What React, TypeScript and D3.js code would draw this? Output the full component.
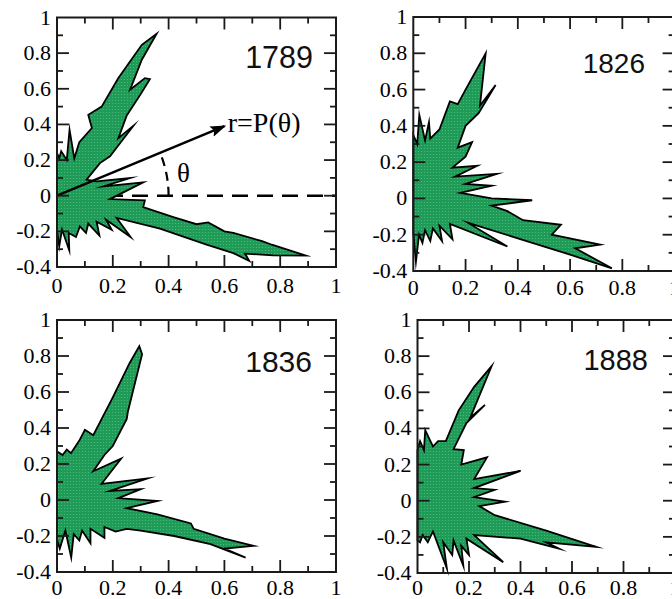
import React from 'react';
import * as d3 from 'd3';

// ---------- data ----------
const years = ['1789', '1826', '1836', '1888'];
const xMajorTicks = [0, 0.2, 0.4, 0.6, 0.8, 1];
const xTickLabels = ['0', '0.2', '0.4', '0.6', '0.8', '1'];
const xMinorTicks = [0.1, 0.3, 0.5, 0.7, 0.9];
const yMajorTicks = [-0.4, -0.2, 0, 0.2, 0.4, 0.6, 0.8, 1];
const yTickLabels = ['-0.4', '-0.2', '0', '0.2', '0.4', '0.6', '0.8', '1'];
const yMinorTicks = [-0.3, -0.1, 0.1, 0.3, 0.5, 0.7, 0.9];

// polygon vertices (x = P cos θ, y = P sin θ), ordered by θ from -90° to 90°
const shape1789: [number, number][] = [
  [0, -0.19], [0.008, -0.284], [0.018, -0.19], [0.044, -0.307], [0.042, -0.209],
  [0.068, -0.232], [0.082, -0.172], [0.104, -0.209], [0.112, -0.157], [0.152, -0.224],
  [0.142, -0.146], [0.196, -0.191], [0.176, -0.135], [0.264, -0.232], [0.214, -0.125],
  [0.369, -0.185], [0.536, -0.275], [0.632, -0.322], [0.689, -0.366], [0.674, -0.325],
  [0.775, -0.335], [0.892, -0.336], [0.77, -0.275], [0.735, -0.255], [0.632, -0.209],
  [0.60, -0.20], [0.542, -0.15], [0.50, -0.16], [0.417, -0.12], [0.309, -0.064],
  [0.315, -0.026], [0.19, -0.019], [0.309, 0.075], [0.166, 0.052], [0.262, 0.099],
  [0.142, 0.08], [0.106, 0.09], [0.154, 0.183], [0.19, 0.221], [0.208, 0.258],
  [0.274, 0.393], [0.22, 0.323], [0.25, 0.45], [0.30, 0.57], [0.333, 0.654],
  [0.315, 0.66], [0.262, 0.595], [0.304, 0.763], [0.357, 0.909], [0.304, 0.847],
  [0.22, 0.66], [0.16, 0.50], [0.112, 0.454], [0.125, 0.38], [0.08, 0.30],
  [0.062, 0.21], [0.045, 0.37], [0.035, 0.2], [0.015, 0.25], [0.008, 0.21], [0, 0.24],
];

const shape1826: [number, number][] = [
  [0, -0.19], [0.01, -0.35], [0.022, -0.2], [0.035, -0.245], [0.045, -0.175],
  [0.065, -0.235], [0.075, -0.165], [0.11, -0.235], [0.10, -0.15], [0.15, -0.225],
  [0.14, -0.14], [0.36, -0.265], [0.21, -0.135], [0.40, -0.22], [0.60, -0.31],
  [0.76, -0.385], [0.62, -0.275], [0.715, -0.255], [0.53, -0.2], [0.565, -0.145],
  [0.42, -0.12], [0.36, -0.07], [0.30, -0.04], [0.455, -0.01], [0.30, 0.0],
  [0.18, 0.03], [0.30, 0.07], [0.20, 0.08], [0.32, 0.135], [0.16, 0.12],
  [0.245, 0.18], [0.15, 0.17], [0.20, 0.23], [0.225, 0.31], [0.17, 0.28],
  [0.20, 0.40], [0.25, 0.47], [0.315, 0.625], [0.255, 0.51], [0.277, 0.80],
  [0.20, 0.60], [0.17, 0.52], [0.14, 0.535], [0.10, 0.38], [0.065, 0.33],
  [0.06, 0.42], [0.045, 0.32], [0.023, 0.46], [0.015, 0.3], [0, 0.35],
];

const shape1836: [number, number][] = [
  [0, -0.22], [0.01, -0.27], [0.03, -0.17], [0.051, -0.32], [0.06, -0.19],
  [0.08, -0.225], [0.09, -0.17], [0.12, -0.24], [0.12, -0.16], [0.17, -0.21],
  [0.17, -0.15], [0.21, -0.175], [0.25, -0.16], [0.30, -0.17], [0.42, -0.2],
  [0.55, -0.245], [0.676, -0.32], [0.60, -0.27], [0.706, -0.255], [0.60, -0.215],
  [0.49, -0.16], [0.48, -0.13], [0.36, -0.08], [0.25, -0.045], [0.36, -0.005],
  [0.22, 0.01], [0.30, 0.06], [0.19, 0.05], [0.325, 0.12], [0.16, 0.09],
  [0.23, 0.23], [0.13, 0.16], [0.17, 0.25], [0.20, 0.30], [0.21, 0.33],
  [0.25, 0.45], [0.254, 0.49], [0.305, 0.81], [0.295, 0.855], [0.26, 0.76],
  [0.20, 0.57], [0.13, 0.36], [0.10, 0.39], [0.08, 0.33], [0.05, 0.26],
  [0.035, 0.28], [0.02, 0.25], [0, 0.27],
];

const shape1888: [number, number][] = [
  [0, -0.22], [0.01, -0.23], [0.02, -0.19], [0.04, -0.23], [0.06, -0.17],
  [0.114, -0.375], [0.10, -0.23], [0.135, -0.30], [0.14, -0.22], [0.178, -0.36],
  [0.17, -0.25], [0.20, -0.30], [0.19, -0.21], [0.333, -0.34], [0.22, -0.19],
  [0.40, -0.21], [0.55, -0.265], [0.50, -0.23], [0.694, -0.256], [0.50, -0.165],
  [0.30, -0.08], [0.24, -0.03], [0.34, -0.005], [0.22, 0.02], [0.30, 0.06],
  [0.22, 0.07], [0.40, 0.165], [0.22, 0.12], [0.27, 0.24], [0.17, 0.20],
  [0.18, 0.28], [0.14, 0.285], [0.19, 0.43], [0.262, 0.53], [0.205, 0.46],
  [0.288, 0.745], [0.22, 0.63], [0.16, 0.50], [0.11, 0.33], [0.08, 0.33],
  [0.06, 0.30], [0.03, 0.39], [0.025, 0.28], [0.01, 0.33], [0, 0.28],
];

const shapes = [shape1789, shape1826, shape1836, shape1888];

// annotation (panel 1): arrow end point and labels
const arrowTip: [number, number] = [0.6, 0.39];
const arcRadiusX = 0.4;

// ---------- layout ----------
const panelBoxes = [
  { left: 57, right: 336, top: 17.5, bottom: 267, labelDy: 26, yearX: 313, yearY: 68, yearSize: 30.5 },
  { left: 413.3, right: 674.6, top: 17, bottom: 271, labelDy: 24, yearX: 645, yearY: 72.5, yearSize: 28 },
  { left: 57, right: 336, top: 320, bottom: 572, labelDy: 23, yearX: 312, yearY: 371.5, yearSize: 30 },
  { left: 417.5, right: 675, top: 320, bottom: 573, labelDy: 22, yearX: 648, yearY: 370, yearSize: 29 },
];

const MAJOR = 12;
const MINOR = 6;
const serif = '"Liberation Serif", "Times New Roman", serif';
const sans = '"Liberation Sans", Arial, sans-serif';

function Panel({ idx }: { idx: number }) {
  const b = panelBoxes[idx];
  const x = d3.scaleLinear().domain([0, 1]).range([b.left, b.right]);
  const y = d3.scaleLinear().domain([-0.4, 1]).range([b.bottom, b.top]);
  const line = d3
    .line<[number, number]>()
    .x((d) => x(d[0]))
    .y((d) => y(d[1]));
  const path = line(shapes[idx]) + 'Z';

  const ticks: JSX.Element[] = [];
  xMajorTicks.forEach((v, i) => {
    if (v > 0 && v < 1) {
      ticks.push(<line key={'xb' + i} x1={x(v)} x2={x(v)} y1={b.bottom} y2={b.bottom - MAJOR} />);
      ticks.push(<line key={'xt' + i} x1={x(v)} x2={x(v)} y1={b.top} y2={b.top + MAJOR} />);
    }
  });
  xMinorTicks.forEach((v, i) => {
    ticks.push(<line key={'xbm' + i} x1={x(v)} x2={x(v)} y1={b.bottom} y2={b.bottom - MINOR} />);
    ticks.push(<line key={'xtm' + i} x1={x(v)} x2={x(v)} y1={b.top} y2={b.top + MINOR} />);
  });
  yMajorTicks.forEach((v, i) => {
    if (v > -0.4 && v < 1) {
      ticks.push(<line key={'yl' + i} x1={b.left} x2={b.left + MAJOR} y1={y(v)} y2={y(v)} />);
      ticks.push(<line key={'yr' + i} x1={b.right} x2={b.right - MAJOR} y1={y(v)} y2={y(v)} />);
    }
  });
  yMinorTicks.forEach((v, i) => {
    ticks.push(<line key={'ylm' + i} x1={b.left} x2={b.left + MINOR} y1={y(v)} y2={y(v)} />);
    ticks.push(<line key={'yrm' + i} x1={b.right} x2={b.right - MINOR} y1={y(v)} y2={y(v)} />);
  });

  let annotation: JSX.Element | null = null;
  if (idx === 0) {
    const ox = x(0), oy = y(0);
    const tx = x(arrowTip[0]), ty = y(arrowTip[1]);
    const ang = Math.atan2(oy - ty, tx - ox);
    const R = x(arcRadiusX) - ox;
    const arcPath = `M${ox + R},${oy} A${R},${R} 0 0 0 ${ox + R * Math.cos(ang)},${oy - R * Math.sin(ang)}`;
    annotation = (
      <g>
        <line x1={ox} y1={oy} x2={tx} y2={ty} stroke="#000" strokeWidth={2.4} markerEnd="url(#arrowhead)" />
        <path d={arcPath} fill="none" stroke="#000" strokeWidth={2.2} strokeDasharray="9 6" />
        <text x={x(0.612)} y={y(0.36)} fontFamily={serif} fontSize={28} fill="#000">r=P(θ)</text>
        <text x={x(0.43)} y={y(0.079)} fontFamily={serif} fontSize={27} fill="#000">θ</text>
      </g>
    );
  }

  return (
    <g>
      {idx === 0 && (
        <line x1={x(0)} x2={x(1)} y1={y(0)} y2={y(0)} stroke="#000" strokeWidth={2.4} strokeDasharray="16 9" />
      )}
      <path d={path} fill="url(#dots)" stroke="#000" strokeWidth={1.8} strokeLinejoin="miter" strokeMiterlimit={10} />
      {annotation}
      <g stroke="#1a1a1a" strokeWidth={1.8}>{ticks}</g>
      <rect x={b.left} y={b.top} width={b.right - b.left} height={b.bottom - b.top} fill="none" stroke="#1a1a1a" strokeWidth={2} />
      {xMajorTicks.map((v, i) => (
        <text key={'xl' + i} x={x(v)} y={b.bottom + b.labelDy} textAnchor="middle" fontFamily={serif} fontSize={22} fill="#000">
          {xTickLabels[i]}
        </text>
      ))}
      {yMajorTicks.map((v, i) => (
        <text key={'yl' + i} x={b.left - 6} y={y(v) + 7} textAnchor="end" fontFamily={serif} fontSize={22} fill="#000">
          {yTickLabels[i]}
        </text>
      ))}
      <text x={b.yearX} y={b.yearY} textAnchor="end" fontFamily={sans} fontSize={b.yearSize} fill="#111">
        {years[idx]}
      </text>
    </g>
  );
}

export default function App() {
  return (
    <svg width={672} height={599} style={{ position: 'absolute', left: 0, top: 0, background: '#fff' }}>
      <defs>
        <pattern id="dots" width="3" height="3" patternUnits="userSpaceOnUse">
          <rect width="3" height="3" fill="#1f9b58" />
          <circle cx="1.5" cy="1.5" r="0.6" fill="#55bb80" />
        </pattern>
        <marker id="arrowhead" markerUnits="userSpaceOnUse" markerWidth="16" markerHeight="12" refX="14" refY="6" orient="auto">
          <path d="M0,0.5 L16,6 L0,11.5 L3,6 Z" fill="#000" />
        </marker>
      </defs>
      <rect x={0} y={0} width={672} height={599} fill="#fff" />
      {years.map((_, i) => (
        <Panel key={i} idx={i} />
      ))}
    </svg>
  );
}
